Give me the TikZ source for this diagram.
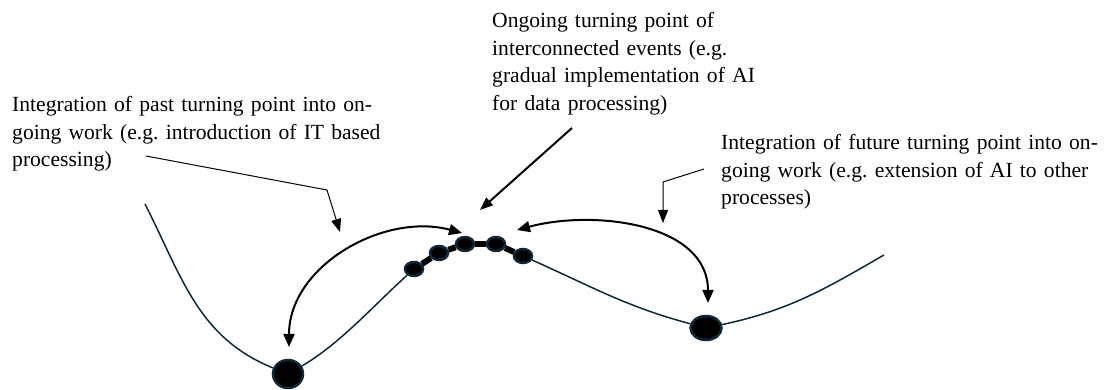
\documentclass[tikz,border=0pt]{standalone}
\usepackage{fontspec}
\setmainfont{Liberation Serif}
\usetikzlibrary{arrows.meta,shapes.geometric}

\definecolor{curvecol}{RGB}{14,40,56}

\tikzset{
  note/.style={anchor=base west, inner sep=0pt, align=left,
    font=\fontsize{21.6pt}{27.5pt}\selectfont\frenchspacing},
  event/.style={ellipse, draw=curvecol, fill=black, line width=2.5pt,
    minimum width=18pt, minimum height=14pt, inner sep=0pt},
  bigevent/.style={event, minimum width=30pt, minimum height=28pt},
  pointer/.style={line width=1pt, -{Triangle[length=13pt,width=10pt]}},
  swing/.style={line width=2pt, {Triangle[length=13pt,width=11pt]}-{Triangle[length=13pt,width=11pt]}}
}

\begin{document}
\begin{tikzpicture}[x=1pt,y=1pt]
  \useasboundingbox (0,0) rectangle (1116,390);

  % Texts
  \node[note, text width=400pt] (past) at (12,278)
    {Integration of past turning point into on-\\going work (e.g. introduction of IT based\\processing)};
  \node[note, text width=320pt] (now) at (492,362)
    {Ongoing turning point of\\interconnected events (e.g.\\gradual implementation of AI\\for data processing)};
  \node[note, text width=420pt] (future) at (721,240)
    {Integration of future turning point into on-\\going work (e.g. extension of AI to other\\processes)};

  % Turning points on the curve
  \node[bigevent] (p1) at (288,16) {};
  \node[bigevent, minimum width=31pt, minimum height=24pt] (p2) at (706,62) {};
  \foreach \n/\x/\y in {1/414/121, 2/439/137, 3/465/146, 4/496/146, 5/523/134}
    \node[event] (e\n) at (\x,\y) {};

  % Curve through the turning points
  \coordinate (start) at (145,186);
  \coordinate (finish) at (884,135);
  \draw[curvecol, line width=1.5pt] (start) to[out=-63, in=158] (p1);
  \draw[curvecol, line width=1.5pt] (p1) to[out=30, in=222, looseness=0.8] (e1);
  \draw[curvecol, line width=1.5pt] (e5) to[out=-24, in=165] (p2);
  \draw[curvecol, line width=1.5pt] (p2) to[out=12, in=210] (finish);

  % Links between interconnected events
  \foreach \a/\b in {1/2, 2/3, 3/4, 4/5}
    \draw[line width=6pt] (e\a) -- (e\b);

  % Pointer from the past note
  \coordinate (l0) at (146,234);
  \coordinate (l1) at (327,200);
  \coordinate (l2) at (340,158);
  \draw[pointer] (l0) -- (l1) -- (l2);

  % Pointer from the ongoing note
  \coordinate (m0) at (572,262);
  \coordinate (m1) at (480,180);
  \draw[pointer, line width=2pt] (m0) -- (m1);

  % Pointer from the future note
  \coordinate (r0) at (704,221);
  \coordinate (r1) at (663,208);
  \coordinate (r2) at (663,167);
  \draw[pointer] (r0) -- (r1) -- (r2);

  % Swings between the past, ongoing and future turning points
  \coordinate (a1) at (289,43);
  \coordinate (a2) at (462,157);
  \draw[swing] (a1) to[out=90, in=165] (a2);
  \coordinate (b1) at (708,87);
  \coordinate (b2) at (517,160);
  \draw[swing] (b1) to[out=90, in=15] (b2);
\end{tikzpicture}
\end{document}
